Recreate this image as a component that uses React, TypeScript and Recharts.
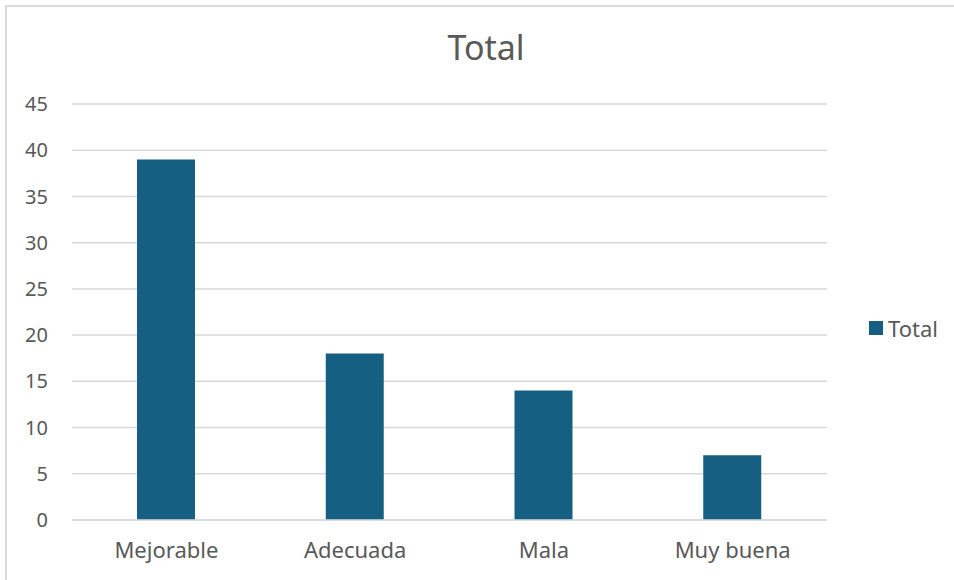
import React from 'react';
import { BarChart, Bar, XAxis, YAxis, CartesianGrid } from 'recharts';

const categories = ['Mejorable', 'Adecuada', 'Mala', 'Muy buena'];
const totals = [39, 18, 14, 7];
const yTicks = [0, 5, 10, 15, 20, 25, 30, 35, 40, 45];

const data = categories.map((name, i) => ({ name, Total: totals[i] }));

const FONT = '"Noto Sans", sans-serif';
const TEXT = '#595959';
const BAR = '#156082';

export default function App() {
  return (
    <div style={{ position: 'absolute', left: 0, top: 0, width: 954, height: 580, overflow: 'hidden', background: '#fff' }}>
      <div style={{ position: 'absolute', left: 5, top: 5, width: 970, height: 600, border: '2px solid #d9d9d9', boxSizing: 'border-box' }} />
      <div style={{ position: 'absolute', left: 0, top: 24, width: 972, textAlign: 'center', fontFamily: FONT, fontSize: 34, color: TEXT, lineHeight: '46px' }}>
        Total
      </div>
      <div style={{ position: 'absolute', left: 0, top: 0 }}>
        <BarChart width={954} height={580} data={data} margin={{ top: 104, right: 127, bottom: 0, left: 0 }}>
          <CartesianGrid vertical={false} stroke="#d9d9d9" strokeWidth={1.5} />
          <XAxis
            dataKey="name"
            height={60}
            tickLine={false}
            tickSize={0}
            tickMargin={22}
            axisLine={{ stroke: '#d9d9d9', strokeWidth: 1.5 }}
            tick={{ fill: TEXT, fontSize: 22, fontFamily: FONT }}
          />
          <YAxis
            width={72}
            domain={[0, 45]}
            ticks={yTicks}
            interval={0}
            axisLine={false}
            tickLine={false}
            tickSize={0}
            tickMargin={24}
            tick={{ fill: TEXT, fontSize: 20, fontFamily: FONT }}
          />
          <Bar dataKey="Total" fill={BAR} barSize={58} isAnimationActive={false} />
        </BarChart>
      </div>
      <div style={{ position: 'absolute', left: 869, top: 313, display: 'flex', alignItems: 'center', fontFamily: FONT, fontSize: 22, color: TEXT }}>
        <span style={{ width: 14, height: 14, background: BAR, display: 'inline-block', marginRight: 5 }} />
        Total
      </div>
    </div>
  );
}
